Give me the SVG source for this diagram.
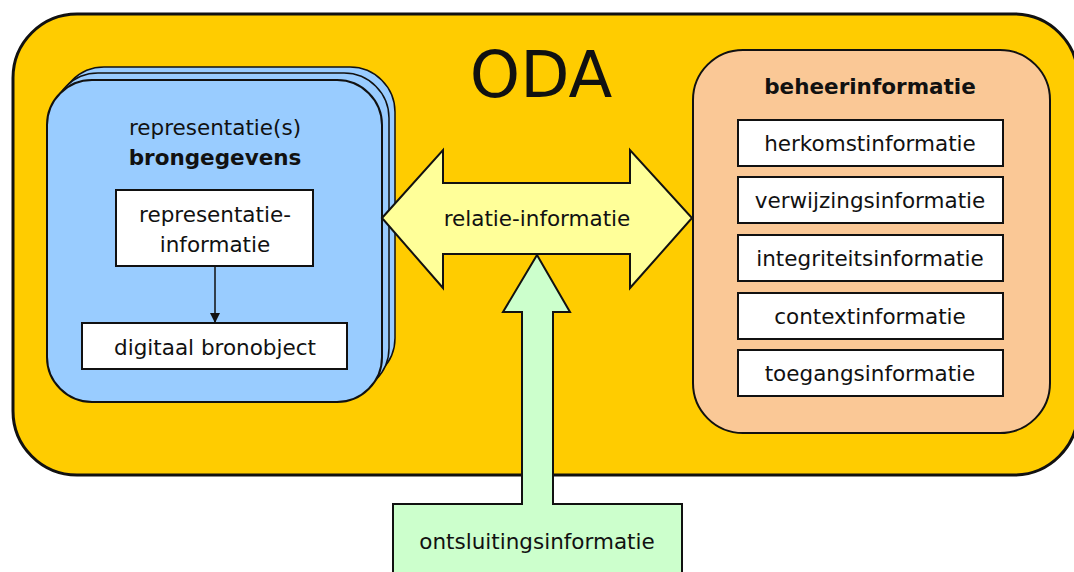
<svg xmlns="http://www.w3.org/2000/svg" width="1074" height="572" viewBox="0 0 1074 572">
<style>
text{font-family:"DejaVu Sans","Liberation Sans",sans-serif;fill:#111;text-anchor:middle}
.t{font-size:21.5px}
.b{font-size:21.5px;font-weight:bold}
.box{fill:#fff;stroke:#111;stroke-width:2}
.stk{stroke:#111;stroke-width:2}
</style>
<defs>
<marker id="ah" markerWidth="10" markerHeight="10" refX="9" refY="5" orient="auto" markerUnits="userSpaceOnUse">
<path d="M0,0 L10,5 L0,10 Z" fill="#111"/>
</marker>
</defs>
<rect width="1074" height="572" fill="#fff"/>
<g id="oda">
<rect x="13" y="14" width="1065" height="461" rx="64" fill="#FFCC00" stroke="#111" stroke-width="3"/>
<text x="541" y="97" style="font-size:64px">ODA</text>
</g>
<g id="brongegevens">
<rect x="59" y="67" width="336" height="316" rx="45" fill="#99CCFF" stroke="#111" stroke-width="1.5"/>
<rect x="53" y="73" width="336" height="320" rx="45" fill="#99CCFF" stroke="#111" stroke-width="1.5"/>
<rect x="47" y="80" width="335" height="322" rx="45" fill="#99CCFF" stroke="#111" stroke-width="2"/>
<text class="t" x="215" y="135">representatie(s)</text>
<text class="b" x="215" y="165">brongegevens</text>
</g>
<g id="repinfo">
<rect class="box" x="116" y="190" width="197" height="76"/>
<text class="t" x="215" y="222">representatie-</text>
<text class="t" x="215" y="252">informatie</text>
</g>
<g id="bronobject">
<rect class="box" x="82" y="323" width="265" height="46"/>
<text class="t" x="215" y="355">digitaal bronobject</text>
</g>
<g id="relatie">
<polygon class="stk" fill="#FFFF99" points="382,218 443,150 443,183 630,183 630,150 692,218 630,288 630,254 443,254 443,288"/>
<text class="t" x="537" y="226">relatie-informatie</text>
</g>
<g id="ontsluiting">
<polygon class="stk" fill="#CCFFCC" points="537,255 570,312 553,312 553,504 682,504 682,580 393,580 393,504 522,504 522,312 503,312"/>
<text class="t" x="537" y="549">ontsluitingsinformatie</text>
</g>
<g id="beheer">
<rect x="693" y="50" width="357" height="383" rx="50" fill="#FAC896" stroke="#111" stroke-width="2"/>
<text class="b" x="870" y="94">beheerinformatie</text>
</g>
<g id="herkomst"><rect class="box" x="738" y="120" width="265" height="46"/><text class="t" x="870" y="151">herkomstinformatie</text></g>
<g id="verwijzing"><rect class="box" x="738" y="177" width="265" height="46"/><text class="t" x="870" y="208">verwijzingsinformatie</text></g>
<g id="integriteit"><rect class="box" x="738" y="235" width="265" height="46"/><text class="t" x="870" y="266">integriteitsinformatie</text></g>
<g id="context"><rect class="box" x="738" y="293" width="265" height="46"/><text class="t" x="870" y="324">contextinformatie</text></g>
<g id="toegang"><rect class="box" x="738" y="350" width="265" height="46"/><text class="t" x="870" y="381">toegangsinformatie</text></g>
<g id="connectors">
<line x1="215" y1="266" x2="215" y2="322" stroke="#111" stroke-width="1.5" marker-end="url(#ah)"/>
</g>
</svg>
